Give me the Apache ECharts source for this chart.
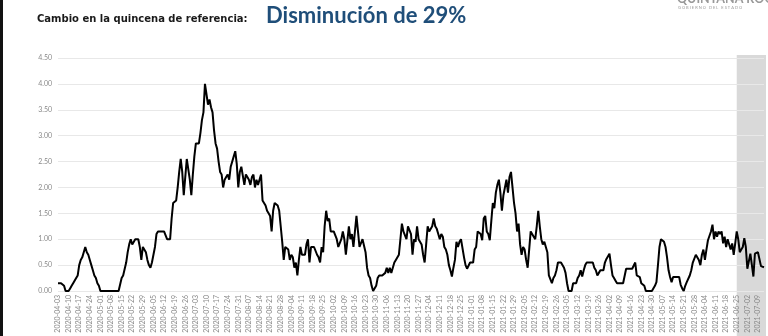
<!DOCTYPE html>
<html>
<head>
<meta charset="utf-8">
<script src="https://cdn.jsdelivr.net/npm/echarts@6/dist/echarts.min.js"></script>
<style>
html,body{margin:0;padding:0;background:#fff;}
#chart{width:768px;height:336px;}
</style>
</head>
<body>
<div id="chart"></div>
<script>
// ---- data ----
const startDate = '2020-04-03';
const shadedFrom = '2021-06-25';
const titleLabel = 'Cambio en la quincena de referencia:';
const titleValue = 'Disminución de 29%';
const logoName = 'QUINTANA ROO';
const logoSub = 'GOBIERNO DEL ESTADO';
const yTicks = [0, 0.5, 1, 1.5, 2, 2.5, 3, 3.5, 4, 4.5];
const values = [
0.15,0.15,0.15,0.15,0.1,0,0,0,0.05,0.1,
0.15,0.15,0.25,0.3,0.5,0.6,0.65,0.75,0.85,0.75,
0.7,0.6,0.5,0.4,0.3,0.25,0.15,0.1,0,0,
0,0,0,0,0,0,0,0,0,0,
0,0,0.25,0.3,0.3,0.55,0.75,0.9,1.0,0.9,
0.9,1.0,1.0,1.0,0.85,0.6,0.85,0.85,0.75,0.6,
0.5,0.45,0.55,0.7,0.85,1.1,1.15,1.15,1.15,1.15,
1.15,1.15,1.0,1.0,1.0,1.4,1.7,1.7,1.75,2.0,
2.3,2.55,2.3,1.85,2.2,2.55,2.55,2.15,1.85,2.25,
2.6,2.85,2.85,2.85,3.05,3.3,3.45,4.0,3.8,3.6,
3.7,3.55,3.45,3.1,2.85,2.75,2.5,2.3,2.25,2.0,
2.15,2.2,2.25,2.15,2.4,2.4,2.6,2.7,2.45,2.0,
2.3,2.4,2.4,2.05,2.25,2.2,2.15,2.05,2.2,2.25,
2.0,2.15,2.05,2.15,2.25,1.75,1.7,1.65,1.55,1.5,
1.45,1.15,1.55,1.7,1.7,1.65,1.55,1.25,0.95,0.6,
0.85,0.85,0.8,0.6,0.7,0.65,0.45,0.55,0.3,0.6,
0.85,0.7,0.7,0.7,0.9,1.0,0.55,0.85,0.85,0.85,
0.85,0.7,0.65,0.55,0.85,0.75,1.25,1.55,1.35,1.4,
1.15,1.15,1.15,1.15,1.0,0.85,0.85,1.0,1.15,1.0,
0.7,0.7,1.25,1.0,1.1,0.85,1.15,1.45,1.15,0.85,
0.85,1.0,1.0,0.75,0.45,0.3,0.25,0.1,0,0,
0.1,0.25,0.3,0.3,0.3,0.3,0.35,0.45,0.35,0.45,
0.35,0.45,0.55,0.6,0.6,0.7,1.0,1.3,1.15,1.15,
1.0,1.25,1.25,1.1,0.7,1.0,0.95,1.25,1.0,1.0,
0.9,0.7,0.55,0.9,1.25,1.15,1.15,1.25,1.4,1.25,
1.2,1.1,1.0,1.1,1.05,0.85,0.8,0.7,0.5,0.4,
0.28,0.45,0.6,0.95,0.85,0.95,1.0,1.0,0.65,0.5,
0.43,0.43,0.55,0.55,0.55,0.8,0.85,1.15,1.15,1.1,
0.98,1.4,1.45,1.15,1.1,0.98,1.35,1.7,1.6,1.9,
2.05,2.15,1.9,1.55,1.85,1.85,2.15,1.9,2.2,2.3,
2.0,1.7,1.5,1.15,1.3,0.9,0.7,0.85,0.8,0.6,
0.45,0.8,1.15,1.15,1.05,1.0,1.25,1.55,1.25,1.0,
0.9,0.95,0.95,0.75,0.3,0.3,0.15,0.25,0.3,0.4,
0.55,0.55,0.55,0.55,0.45,0.35,0.15,0,0,0,
0.15,0.15,0.15,0.25,0.3,0.4,0.28,0.4,0.5,0.55,
0.55,0.55,0.55,0.55,0.45,0.4,0.3,0.35,0.4,0.4,
0.4,0.55,0.62,0.62,0.72,0.5,0.3,0.25,0.2,0.15,
0.15,0.15,0.15,0.15,0.15,0.43,0.43,0.43,0.43,0.43,
0.43,0.55,0.3,0.3,0.27,0.15,0.12,0.1,0,0,
0,0,0,0,0.1,0.17,0.5,0.85,1.0,1.0,
0.95,0.85,0.65,0.4,0.27,0.17,0.27,0.27,0.27,0.27,
0.27,0.12,0.05,0,0.1,0.17,0.17,0.3,0.4,0.55,
0.52,0.7,0.72,0.6,0.5,0.7,0.8,0.6,0.8,0.98,
0.95,1.15,1.28,1.0,1.15,1.05,1.15,1.1,1.15,0.92,
1.05,0.85,1.0,1.0,0.8,0.92,0.7,0.92,1.15,1.0,
0.75,0.8,0.85,1.02,0.85,0.43,0.4,0.72,0.5,0.28,
0.72,0.75,0.75,0.75,0.48,0.46,0.46
];

// daily category labels from the start date
function buildDates(start, n) {
  const p = start.split('-').map(Number);
  const t0 = Date.UTC(p[0], p[1] - 1, p[2]);
  const out = [];
  for (let i = 0; i < n; i++) {
    const d = new Date(t0 + i * 86400000);
    const mm = String(d.getUTCMonth() + 1).padStart(2, '0');
    const dd = String(d.getUTCDate()).padStart(2, '0');
    out.push(d.getUTCFullYear() + '-' + mm + '-' + dd);
  }
  return out;
}
const dates = buildDates(startDate, values.length);

const chart = echarts.init(document.getElementById('chart'), null, {renderer: 'canvas'});
const FONT = 'Lato, "Open Sans", sans-serif';

chart.setOption({
  animation: false,
  backgroundColor: '#ffffff',
  title: [
    {text: titleLabel, left: 32, top: 9,
     textStyle: {fontFamily: '"DejaVu Sans", sans-serif', fontSize: 10, fontWeight: 'bold', color: '#1a1a1a'}},
    {text: titleValue, left: 261, top: 0,
     textStyle: {fontFamily: FONT, fontSize: 22, fontWeight: 'bold', color: '#1f4e79'}}
  ],
  grid: {left: 58, right: 4, top: 58, bottom: 45, containLabel: false},
  xAxis: {
    type: 'category',
    data: dates,
    boundaryGap: false,
    axisLine: {show: false},
    axisTick: {show: false},
    splitLine: {show: false},
    axisLabel: {interval: 6, rotate: 90, fontSize: 7, color: '#8a8a8a', margin: 4, fontFamily: FONT}
  },
  yAxis: {
    type: 'value',
    min: yTicks[0],
    max: yTicks[yTicks.length - 1],
    interval: 0.5,
    axisLine: {show: false},
    axisTick: {show: false},
    splitLine: {lineStyle: {color: '#e8e8e8', width: 1}},
    axisLabel: {fontSize: 7, color: '#8a8a8a', margin: 6, fontFamily: FONT,
      formatter: v => v.toFixed(2)}
  },
  series: [{
    type: 'line',
    data: values,
    showSymbol: false,
    smooth: false,
    lineStyle: {color: '#000', width: 2},
    z: 5
  }]
});

// shaded band (spans plot and label area) + decorative elements
const x0 = chart.convertToPixel({xAxisIndex: 0}, shadedFrom);
const x1 = chart.convertToPixel({xAxisIndex: 0}, dates[dates.length - 1]);
chart.setOption({
  graphic: [
    {type: 'rect', z: -1, shape: {x: x0, y: 55, width: x1 - x0 + 2, height: 281},
     style: {fill: '#d9d9d9'}},
    {type: 'rect', shape: {x: 0, y: 0, width: 3, height: 336}, style: {fill: '#111'}},
    {type: 'text', left: 677, top: -8,
     style: {text: logoName, fontSize: 12.5, fontWeight: 'bold', fill: '#999', fontFamily: FONT}},
    {type: 'text', left: 678, top: 6,
     style: {text: logoSub.split('').join('\u2009\u2009'), fontSize: 4, fill: '#999', fontFamily: FONT}}
  ]
});
</script>
</body>
</html>
